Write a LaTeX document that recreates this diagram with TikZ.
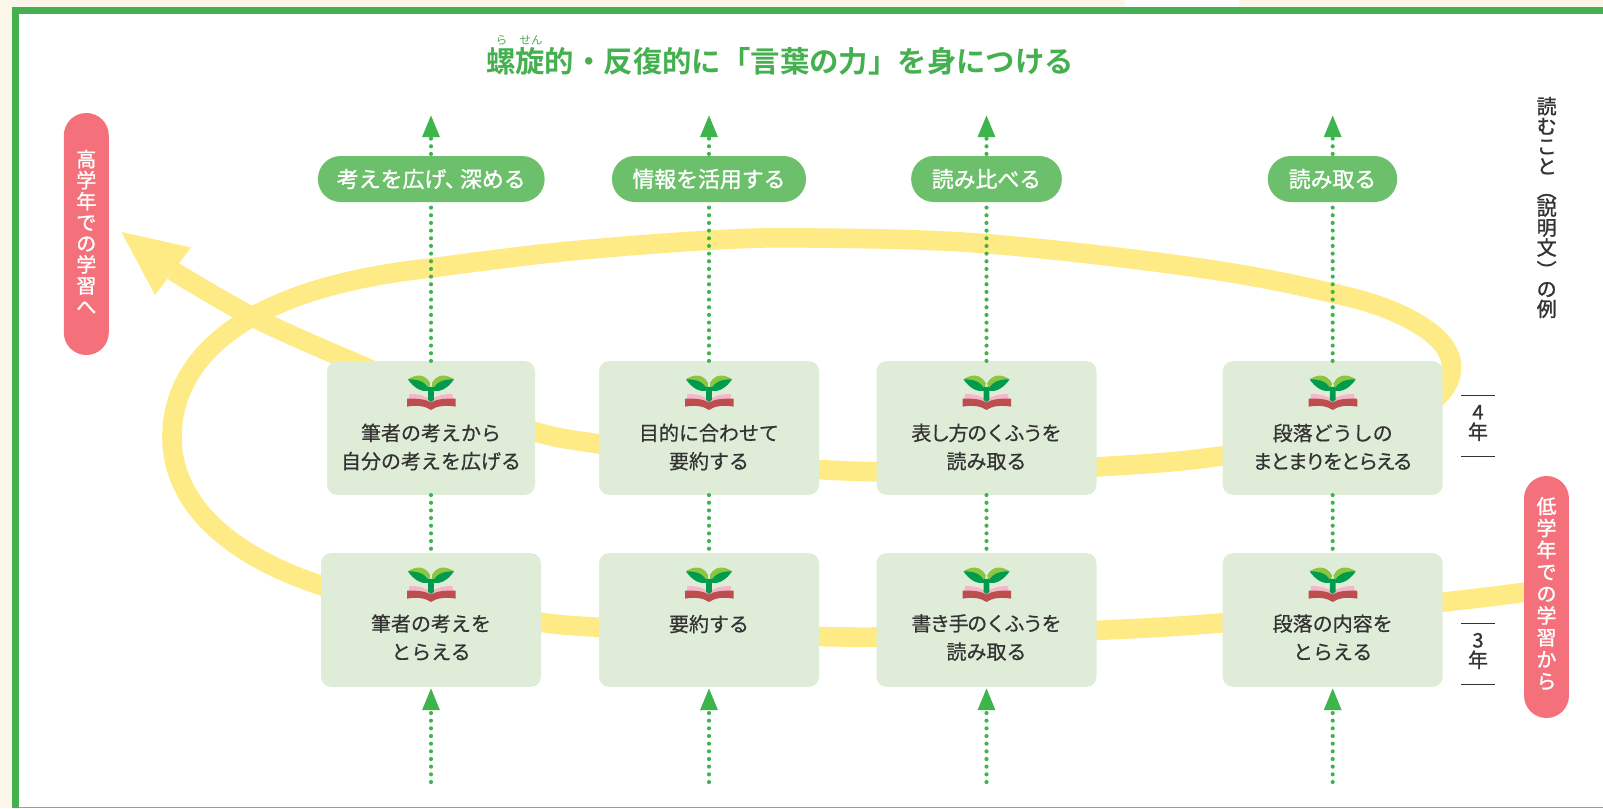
\documentclass[tikz,border=0pt]{standalone}
\usepackage{fontspec}
\setmainfont{Noto Sans CJK JP}
\newfontfamily\jpmed[FakeBold=0.6]{Noto Sans CJK JP}
\newfontfamily\jpstrong[FakeBold=1.3]{Noto Sans CJK JP}
\newfontfamily\jpbold{Noto Sans CJK JP Bold}
\usetikzlibrary{arrows.meta}
\AtBeginDocument{\lineskiplimit=-100pt\relax}
\definecolor{cream}{HTML}{FBF6E9}
\definecolor{framegreen}{HTML}{45B050}
\definecolor{bandyellow}{HTML}{FFEB85}
\definecolor{boxgreen}{HTML}{DFEDD8}
\definecolor{pillgreen}{HTML}{6DC06B}
\definecolor{pillred}{HTML}{F4717B}
\definecolor{dotgreen}{HTML}{3DB54A}
\definecolor{inkdark}{HTML}{333333}
\definecolor{leafdark}{HTML}{009B4C}
\definecolor{leaflight}{HTML}{8CC63F}
\definecolor{bookred}{HTML}{BD4E50}
\definecolor{bookpink}{HTML}{F4B6C8}
\newcommand{\vfont}[1]{\jpstrong\fontsize{15}{#1}\selectfont}
\newcommand{\tk}[2]{{\addfontfeature{LetterSpace=#1}#2}}
\tikzset{
  stepbox/.style={fill=boxgreen,rounded corners=7.5pt,minimum width=165pt,minimum height=100.2pt,inner sep=0pt},
  steptext/.style={align=center,text=inkdark,inner sep=0pt,font=\jpmed\fontsize{15}{21.2}\selectfont},
  goalpill/.style={fill=pillgreen,rounded corners=17pt,minimum height=34.5pt,inner sep=0pt,text=white,font=\jpstrong\fontsize{16.4}{20}\selectfont},
  redpill/.style={fill=pillred,rounded corners=16.8pt,minimum width=33.7pt,minimum height=181.5pt,inner sep=0pt},
  redtext/.style={inner sep=0pt,text=white,align=center},
  dotline/.style={dotgreen,line width=3.1pt,line cap=round,dash pattern=on 0pt off 5.75pt},
  uptip/.style={-{Triangle[length=16.5pt,width=12.4pt]}},
  rulel/.style={draw=inkdark,line width=0.75pt},
  band/.style={bandyellow,line width=14.7pt,line cap=butt},
  sprout/.pic={
    \fill[bookpink] (-21.7,33) .. controls (-12,33) and (-5,35) .. (0,39) .. controls (5,35) and (12,33) .. (21.7,33) -- (22,41) -- (-22,41) -- cycle;
    \fill[bookred] (-24,37.7) .. controls (-14,37.5) and (-6,38) .. (0,41.5) .. controls (6,38) and (14,37.5) .. (24.5,37.7) -- (24.7,45.7) .. controls (14,44) and (6,45) .. (0,49) .. controls (-6,45) and (-14,44) .. (-24,45.7) -- cycle;
    \foreach \sx in {1,-1}{
      \begin{scope}[xscale=\sx]
        \fill[leafdark] (-23,18.5) .. controls (-15,14) and (-6,13) .. (-1,22.5) -- (-2.7,30) .. controls (-10,31) and (-17,27) .. cycle;
        \fill[leaflight] (-23,18.5) .. controls (-15,13) and (-6,12.5) .. (-1,22.5) -- (-2,28) .. controls (-6,20) and (-14,18) .. cycle;
      \end{scope}
    }
    \fill[leafdark] (-2.8,26) -- (2.8,26) -- (2.8,39) -- (0,41) -- (-2.8,39) -- cycle;
  }
}
\begin{document}
\begin{tikzpicture}[x=0.75pt,y=-0.75pt]
\useasboundingbox (0,0) rectangle (1603,808);
% page ground and frame
\fill[cream] (0,0) rectangle (1603,808);
\fill[white] (1125,0) rectangle (1239,7);
\fill[framegreen] (12,7) rectangle (1603,808);
\fill[white] (18.6,13.7) rectangle (1603,806.8);
\fill[pillgreen] (18.6,806.8) rectangle (1603,808);

% spiral band
\draw[band] plot[smooth,tension=0.6] coordinates {
  (1535,590.7) (1443,602) (1223,622.8) (1096,630.5) (986,635) (848,637) (709,633) (599,627.3) (541,622.3) (440,606) (350,594)};
\draw[band] (350,594) .. controls (240,565) and (172,510) .. (172,437)
  .. controls (172,370) and (225,290) .. (431,268);
\draw[band] plot[smooth,tension=0.6] coordinates {
  (431,268) (560,252) (709,240.3) (812,238)
  (986,243.7) (1200,268) (1332,293) (1397,313) (1438,339) (1451.5,367) (1438,396) (1390,425) (1223,455.8)
  (1096,467) (986,471) (848,471) (709,460) (599,444) (535,431.7) (440,398) (350.7,361) (253,317) (173,271)};
\fill[bandyellow] (121.5,232) -- (191,247.5) -- (155,295) -- cycle;

% named places
\coordinate (top1) at (431,115);
\coordinate (top2) at (709,115);
\coordinate (top3) at (986.5,115);
\coordinate (top4) at (1332.7,115);
\coordinate (foot1) at (431,782);
\coordinate (foot2) at (709,782);
\coordinate (foot3) at (986.5,782);
\coordinate (foot4) at (1332.7,782);
\coordinate (head1) at (431,688);
\coordinate (head2) at (709,688);
\coordinate (head3) at (986.5,688);
\coordinate (head4) at (1332.7,688);

% boxes (placed first as empty shapes so connectors can refer to them)
\node[stepbox,minimum width=156pt] (u1) at (431,428) {};
\node[stepbox] (u2) at (709,428) {};
\node[stepbox] (u3) at (986.5,428) {};
\node[stepbox] (u4) at (1332.7,428) {};
\node[stepbox] (l1) at (431,620) {};
\node[stepbox] (l2) at (709,620) {};
\node[stepbox] (l3) at (986.5,620) {};
\node[stepbox] (l4) at (1332.7,620) {};

% dotted connectors
\foreach \c in {1,2,3,4}{
  \draw[dotline,uptip] (u\c.north) -- (top\c);
  \draw[dotline] (u\c.south) -- (l\c.north);
  \draw[dotline,uptip] (foot\c) -- (head\c);
}

% icons
\foreach \c in {1,2,3,4}{
  \pic at (u\c.north) {sprout};
  \pic at (l\c.north) {sprout};
}

% box texts
\node[steptext] (tu1) at (431,447) {筆者の考えから\\自分の考えを広げる};
\node[steptext] (tu2) at (709,447) {目的に合わせて\\要約する};
\node[steptext] (tu3) at (986.5,447) {\tk{-7}{表し方のくふうを}\\読み取る};
\node[steptext] (tu4) at (1332.7,447) {段落どうしの\\\tk{-12}{まとまりをとらえる}};
\node[steptext] (tl1) at (431,637.5) {筆者の考えを\\とらえる};
\node[steptext] (tl2) at (709,624) {要約する};
\node[steptext] (tl3) at (986.5,637.5) {\tk{-7}{書き手のくふうを}\\読み取る};
\node[steptext] (tl4) at (1332.7,637.5) {段落の内容を\\とらえる};

% goal pills
\node[goalpill,minimum width=170pt] (g1) at (431.3,179) {考えを広げ、\hspace{-.3em}深める};
\node[goalpill,minimum width=145.5pt] (g2) at (709,179) {情報を活用する};
\node[goalpill,minimum width=113pt] (g3) at (986.5,179) {読み比べる};
\node[goalpill,minimum width=97pt] (g4) at (1332.5,179) {読み取る};

% title with reading marks
\node[inner sep=0pt,text=framegreen,font=\jpbold\fontsize{22.05}{26}\selectfont] (title) at (780,61) {螺旋的・反復的に「言葉の力」を身につける};
\node[inner sep=0pt,text=framegreen,font=\fontsize{8.6}{10}\selectfont] (rb1) at (501.7,40) {ら};
\node[inner sep=0pt,text=framegreen,font=\fontsize{8.6}{10}\selectfont] (rb2) at (531,40) {せん};

% red pills
\node[redpill] (hi) at (86.3,234) {};
\node[redtext,font=\vfont{15.8}] (hit) at (86.3,232) {高\\学\\年\\で\\の\\学\\習\\へ};
\node[redpill] (lo) at (1546.5,597) {};
\node[redtext,font=\vfont{16.4}] (lot) at (1546.5,593.5) {低\\学\\年\\で\\の\\学\\習\\か\\ら};

% side heading
\node[align=center,inner sep=0pt,text=inkdark,font=\vfont{15}] (side) at (1546.7,207.5) {読\\む\\こ\\と\\[3pt]︵\\[-2pt]説\\明\\文\\[2pt]︶\\[-1pt]の\\例};

% year marks
\draw[rulel] (1461,395) coordinate (a4) -- (1495,395) coordinate (b4);
\draw[rulel] (1461,456.3) coordinate (c4) -- (1495,456.3) coordinate (d4);
\draw[rulel] (1461,623) coordinate (a3) -- (1495,623) coordinate (b3);
\draw[rulel] (1461,684) coordinate (c3) -- (1495,684) coordinate (d3);
\node[align=center,inner sep=0pt,text=inkdark,font=\vfont{15}] (y4) at (1478,423) {4\\年};
\node[align=center,inner sep=0pt,text=inkdark,font=\vfont{15}] (y3) at (1478,651) {3\\年};
\end{tikzpicture}
\end{document}
